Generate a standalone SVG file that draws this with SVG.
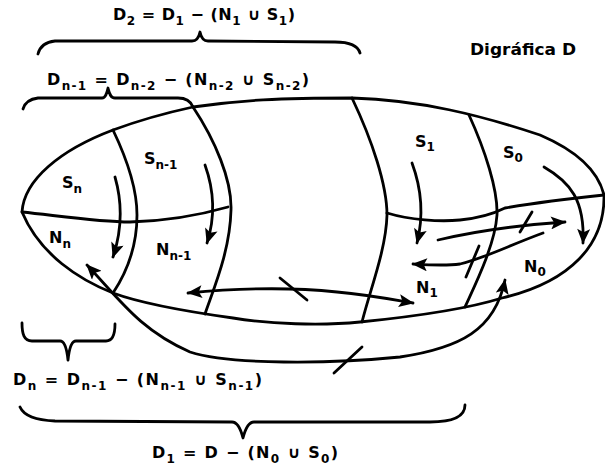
<svg xmlns="http://www.w3.org/2000/svg" width="605" height="470" viewBox="0 0 605 470">
<defs>
<style>
.ln{fill:none;stroke:#000;stroke-width:2.8;stroke-linecap:round;stroke-linejoin:round}
.ar{marker-end:url(#ah)}
.dbl{marker-start:url(#ah);marker-end:url(#ah)}
.t{font-family:"DejaVu Sans","Liberation Sans",Arial,sans-serif;font-weight:bold;font-size:16px;fill:#000}
.s{font-size:12px}
</style>
<marker id="ah" viewBox="0 0 14 12" refX="13" refY="6" markerWidth="16" markerHeight="13" markerUnits="userSpaceOnUse" orient="auto-start-reverse">
<path d="M0,0 L14,6 L0,12 L3,6 z" fill="#000"/>
</marker>
</defs>
<rect width="605" height="470" fill="#fff"/>

<g id="digrafica">
<path class="ln" d="M22,212 C24,180 60,150 113,130 C140,120 170,112 193,107 C240,100 280,98 352,98 C420,100 480,115 540,135 C575,150 598,170 604,195 C605,245 570,282 502,298 C470,308 420,316 360,322 C320,326 270,324 233,318 C190,312 140,303 113,293 C80,280 40,255 22,212 Z"/>
<text class="t" x="470" y="55" textLength="106" lengthAdjust="spacingAndGlyphs">Digráfica D</text>
</g>

<g id="dividers">
<path class="ln" d="M22,212 C60,216 100,222 130,222 C170,221 200,215 228,207"/>
<path class="ln" d="M387,213 C410,220 440,222 460,220 C480,218 495,213 505,208 C540,202 575,198 604,195"/>
<path class="ln" d="M113,130 C125,155 137,185 137,215 C137,250 125,275 113,293"/>
<path class="ln" d="M193,107 C215,140 232,180 231,210 C230,250 215,285 205,314"/>
<path class="ln" d="M352,98 C372,140 387,185 387,215 C386,250 370,290 362,322"/>
<path class="ln" d="M469,115 C485,150 498,190 497,215 C495,245 475,285 465,307"/>
</g>

<g id="Sn"><text class="t" x="62" y="188">S<tspan class="s" dy="5">n</tspan></text></g>
<g id="Sn-1"><text class="t" x="144" y="164">S<tspan class="s" dy="5">n-1</tspan></text></g>
<g id="Nn"><text class="t" x="49" y="243">N<tspan class="s" dy="5">n</tspan></text></g>
<g id="Nn-1"><text class="t" x="156" y="255">N<tspan class="s" dy="5">n-1</tspan></text></g>
<g id="S1"><text class="t" x="415" y="147">S<tspan class="s" dy="4">1</tspan></text></g>
<g id="S0"><text class="t" x="503" y="158">S<tspan class="s" dy="4">0</tspan></text></g>
<g id="N1"><text class="t" x="416" y="293">N<tspan class="s" dy="4">1</tspan></text></g>
<g id="N0"><text class="t" x="524" y="272">N<tspan class="s" dy="4">0</tspan></text></g>

<g id="connectors">
<path class="ln ar" d="M115,177 C123,205 122,230 113,257"/>
<path class="ln ar" d="M205,165 C214,190 216,215 207,243"/>
<path class="ln ar" d="M412,163 C422,190 424,215 417,243"/>
<path class="ln ar" d="M544,167 C570,182 585,200 583,243"/>
<path class="ln ar" d="M438,240 C480,230 520,225 565,222"/>
<path class="ln" d="M520,232 L532,212"/>
<path class="ln ar" d="M543,233 C510,245 485,258 460,264 C445,266 430,265 413,264"/>
<path class="ln" d="M466,277 L479,246"/>
<path class="ln dbl" d="M188,293 C240,288 290,287 337,292 C370,295 395,300 413,303"/>
<path class="ln" d="M280,278 L307,300"/>
<path class="ln dbl" d="M87,265 C120,300 140,330 190,352 C230,365 330,364 400,357 C460,348 495,330 505,280"/>
<path class="ln" d="M334,373 L362,347"/>
</g>

<g id="braces">
<path class="ln" d="M38,54 C40,46 45,42 55,41 L192,41 C197,41 199,37 200,32 C201,37 203,41 208,41 L335,42 C350,42 358,46 360,53"/>
<path class="ln" d="M23,109 C25,102 30,99 38,98 L102,98 C106,98 107,92 108,88 C109,92 110,98 115,98 L178,98 C186,98 191,102 193,107"/>
<path class="ln" d="M22,323 C22,334 24,341 32,341 L60,341 C65,341 67,350 68,360 C69,350 71,341 76,341 L106,341 C113,341 115,334 115,324"/>
<path class="ln" d="M20,407 C24,416 35,420 55,421 L232,422 C238,422 241,430 243,438 C245,430 248,422 254,422 L430,422 C455,422 465,415 465,405"/>
</g>

<g id="labels">
<text class="t" x="113" y="20" textLength="182" lengthAdjust="spacing">D<tspan class="s" dy="5">2</tspan><tspan dy="-5"> = D</tspan><tspan class="s" dy="5">1</tspan><tspan dy="-5"> − (N</tspan><tspan class="s" dy="5">1</tspan><tspan dy="-5"> ∪ S</tspan><tspan class="s" dy="5">1</tspan><tspan dy="-5">)</tspan></text>
<text class="t" x="47" y="85" textLength="262" lengthAdjust="spacing">D<tspan class="s" dy="5">n-1</tspan><tspan dy="-5"> = D</tspan><tspan class="s" dy="5">n-2</tspan><tspan dy="-5"> − (N</tspan><tspan class="s" dy="5">n-2</tspan><tspan dy="-5"> ∪ S</tspan><tspan class="s" dy="5">n-2</tspan><tspan dy="-5">)</tspan></text>
<text class="t" x="13" y="385" textLength="249" lengthAdjust="spacing">D<tspan class="s" dy="5">n</tspan><tspan dy="-5"> = D</tspan><tspan class="s" dy="5">n-1</tspan><tspan dy="-5"> − (N</tspan><tspan class="s" dy="5">n-1</tspan><tspan dy="-5"> ∪ S</tspan><tspan class="s" dy="5">n-1</tspan><tspan dy="-5">)</tspan></text>
<text class="t" x="152" y="458" textLength="186" lengthAdjust="spacing">D<tspan class="s" dy="5">1</tspan><tspan dy="-5"> = D − (N</tspan><tspan class="s" dy="5">0</tspan><tspan dy="-5"> ∪ S</tspan><tspan class="s" dy="5">0</tspan><tspan dy="-5">)</tspan></text>
</g>
</svg>
